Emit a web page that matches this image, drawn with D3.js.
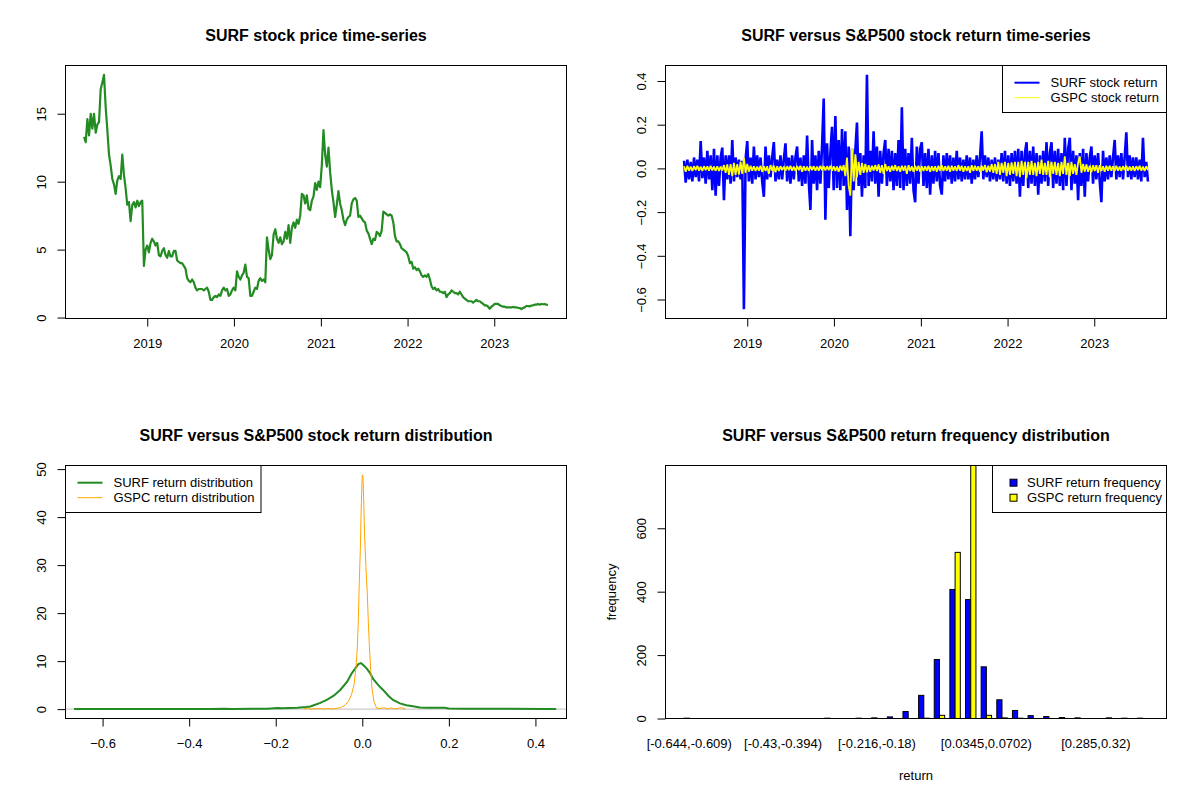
<!DOCTYPE html>
<html><head><meta charset="utf-8">
<script src="https://cdn.jsdelivr.net/npm/d3@7"></script>
<style>
body{margin:0;background:#fff}
svg{display:block}
text{font-family:"Liberation Sans",Arial,Helvetica,sans-serif;fill:#000}
</style>
</head><body>
<svg id="chart" width="1200" height="800"></svg>
<script>
// ---------------- DATA ----------------
const startDate = "2018-04-10";           // first weekly observation
const yearTicks = [2019, 2020, 2021, 2022, 2023];

// SURF weekly closing price
const surfPrice = [
13.3,12.9,14.6,13.4,15.0,13.9,15.0,13.6,14.2,14.4,16.8,17.3,17.86,15.5,13.8,12.0,11.2,10.2,9.8,9.1,
10.1,10.4,10.2,12.0,10.5,9.5,8.3,8.5,7.1,8.3,8.5,8.1,8.6,8.2,8.5,8.6,3.8,5.0,5.3,4.8,
5.5,5.8,5.6,5.3,5.5,4.6,4.5,4.9,5.1,4.6,4.4,4.9,4.5,4.5,4.9,4.9,4.2,4.1,4.0,4.0,
3.8,3.6,2.9,2.7,2.6,2.8,2.6,2.2,2.0,2.1,2.1,2.1,2.0,2.1,2.2,1.9,1.3,1.3,1.5,1.6,
1.5,1.7,1.6,2.0,2.2,2.0,2.1,1.6,1.7,2.0,2.2,2.0,3.4,3.0,2.8,3.1,3.3,3.9,3.0,2.9,
1.6,1.6,1.9,2.2,2.1,2.7,2.9,2.7,2.8,2.6,5.9,5.0,4.3,4.6,6.1,6.5,5.8,5.5,5.9,5.4,
5.6,6.3,5.8,6.8,5.5,6.6,7.0,6.6,7.2,6.9,7.5,9.1,9.0,8.4,9.0,8.0,7.9,8.6,8.9,9.9,
9.4,10.0,9.6,11.2,13.8,12.0,11.1,12.5,10.7,9.4,8.5,7.4,8.3,9.3,8.4,7.9,7.2,6.8,7.2,7.4,
7.5,8.4,8.7,8.8,8.6,7.4,7.5,7.3,7.1,7.0,6.4,6.2,5.8,5.4,5.8,5.7,6.3,6.2,6.0,6.4,
7.8,7.7,7.6,7.5,7.6,7.5,7.0,6.0,5.6,5.6,5.4,5.1,5.0,4.9,4.8,4.5,4.0,4.1,3.6,3.7,
3.5,3.6,3.4,3.1,3.0,3.1,3.0,3.2,2.8,2.3,2.1,2.2,2.0,2.1,1.9,1.9,1.8,1.9,1.5,1.7,
1.8,2.0,1.9,1.8,1.8,1.7,1.9,1.7,1.5,1.4,1.3,1.2,1.2,1.2,1.1,1.2,1.3,1.2,1.2,1.1,
1.0,0.9,0.9,0.8,0.65,0.8,0.9,1.0,1.0,1.0,0.9,0.85,0.8,0.8,0.75,0.75,0.75,0.75,0.78,0.75,
0.75,0.72,0.7,0.62,0.7,0.75,0.85,0.85,0.82,0.88,0.9,0.95,0.95,1.0,0.95,1.0,0.98,1.0,0.95,0.92
];

// SURF weekly return extremes
const surfReturn = [
0.035,-0.065,0.04,-0.05,0.03,-0.06,0.05,-0.04,0.04,-0.06,
0.125,-0.045,0.05,-0.07,0.08,-0.05,0.06,-0.1,0.09,-0.125,
0.06,-0.08,0.05,0.095,-0.145,0.06,-0.05,0.06,-0.07,0.13,
-0.06,0.05,-0.04,0.04,-0.05,0.035,-0.644,0.04,0.125,-0.06,
0.05,-0.07,0.1,-0.05,0.06,-0.04,0.05,-0.06,-0.13,0.1,
-0.05,0.06,-0.04,0.05,0.12,-0.06,0.04,-0.05,0.06,-0.05,
0.04,0.115,-0.06,0.05,-0.07,0.06,-0.05,0.05,0.1,-0.06,
0.05,-0.08,0.06,-0.07,0.15,-0.06,-0.19,0.13,-0.07,0.06,
-0.1,0.08,-0.07,0.1,0.32,-0.235,0.115,-0.09,0.07,0.19,
-0.1,0.24,-0.09,0.13,-0.1,0.18,-0.08,0.17,-0.19,0.1,
-0.31,0.09,-0.1,0.08,0.21,-0.08,0.07,-0.13,0.06,-0.09,
0.428,-0.08,0.08,-0.06,0.17,-0.07,0.1,-0.13,0.08,-0.07,
0.07,0.13,-0.08,0.09,-0.06,0.08,-0.1,0.07,-0.08,0.13,
-0.09,0.28,-0.1,0.09,-0.08,0.07,-0.07,0.14,-0.1,-0.155,
0.1,-0.07,0.09,0.12,-0.08,0.07,-0.09,0.09,-0.12,0.06,
-0.07,0.08,-0.06,0.07,-0.08,-0.12,0.06,-0.06,0.07,-0.05,
0.06,-0.07,0.05,-0.06,0.08,-0.05,0.05,-0.06,0.04,-0.05,
0.06,-0.05,0.05,-0.07,0.04,-0.05,0.06,-0.04,0.05,0.17,
-0.05,0.06,-0.04,0.05,-0.06,0.04,-0.05,0.05,-0.06,0.04,
-0.05,0.07,-0.06,0.08,-0.07,0.06,-0.08,0.07,-0.06,0.08,
-0.07,0.09,-0.13,0.08,-0.08,0.07,0.12,-0.09,0.08,-0.07,
0.1,-0.08,0.07,-0.12,0.06,-0.07,0.08,-0.06,0.12,-0.08,
0.07,0.12,-0.09,0.08,-0.07,0.09,-0.08,0.07,-0.1,0.14,
-0.08,0.09,0.14,-0.1,0.08,-0.07,0.06,-0.145,0.07,-0.08,
0.09,-0.13,0.07,-0.06,0.05,0.1,-0.07,0.06,-0.05,0.07,
-0.06,-0.155,0.08,-0.06,0.05,-0.05,0.06,-0.04,0.05,0.13,
-0.05,0.06,-0.04,0.07,-0.05,0.05,0.165,-0.04,0.06,-0.05,
0.05,-0.04,0.05,-0.05,0.04,-0.06,0.14,-0.04,0.03,-0.06
];

// GSPC (S&P500) weekly return extremes
const gspcReturn = [
0.01,-0.015,0.012,-0.01,0.008,-0.012,0.01,-0.008,0.012,-0.01,
0.008,-0.012,0.01,-0.008,0.009,-0.01,0.012,-0.009,0.008,-0.011,
0.01,-0.012,0.008,-0.01,0.015,-0.02,0.018,-0.03,0.02,-0.035,
0.025,-0.03,0.02,-0.028,0.03,-0.025,0.05,-0.02,0.02,-0.015,
0.012,-0.01,0.01,-0.012,0.008,-0.01,0.012,-0.015,0.01,-0.012,
0.01,-0.025,0.015,-0.01,0.012,-0.018,0.01,-0.012,0.01,-0.008,
0.008,-0.01,0.01,-0.008,0.012,-0.01,0.008,-0.012,0.01,-0.008,
0.012,-0.015,0.01,-0.01,0.008,-0.012,0.01,-0.008,0.01,-0.01,
0.008,-0.01,0.012,-0.008,0.01,-0.009,0.01,-0.008,0.012,-0.01,
0.01,-0.012,0.008,-0.015,0.012,-0.01,0.015,-0.035,0.05,-0.08,
-0.125,0.09,-0.06,0.065,-0.04,0.03,-0.03,0.025,-0.02,0.02,
-0.018,0.015,-0.015,0.012,-0.01,0.015,-0.012,0.018,-0.02,0.015,
-0.025,0.02,-0.012,0.01,-0.015,0.012,-0.01,0.015,-0.012,0.01,
-0.015,0.012,-0.01,0.012,-0.025,0.015,-0.012,0.01,-0.015,0.012,
-0.01,0.012,-0.015,0.01,-0.012,0.01,-0.01,0.012,-0.015,0.01,
-0.012,0.01,-0.015,0.012,-0.01,0.015,-0.012,0.01,-0.01,0.012,
-0.015,0.012,-0.01,0.01,-0.012,0.015,-0.01,0.012,-0.015,0.01,
-0.012,0.01,-0.02,0.015,-0.012,0.012,-0.01,0.01,-0.015,0.012,
-0.01,0.015,-0.018,0.012,-0.015,0.02,-0.02,0.02,-0.025,0.03,
-0.03,0.025,-0.02,0.03,-0.035,0.025,-0.03,0.028,-0.025,0.03,
-0.035,0.03,-0.04,0.035,-0.03,0.03,-0.045,0.03,-0.03,0.035,
-0.03,0.025,-0.035,0.03,-0.025,0.04,-0.03,0.025,-0.03,0.035,
-0.04,0.03,-0.025,0.03,-0.03,0.025,-0.035,0.03,-0.025,0.055,
-0.03,0.025,-0.035,0.03,-0.025,0.02,-0.03,0.025,0.055,-0.02,
0.02,-0.015,0.018,-0.015,0.012,-0.018,0.015,-0.012,0.015,-0.02,
0.015,-0.012,0.01,-0.015,0.012,-0.01,0.012,-0.01,0.01,-0.012,
0.012,-0.01,0.008,-0.012,0.01,-0.008,0.012,-0.01,0.008,-0.01,
0.01,-0.012,0.01,-0.008,0.012,-0.01,0.008,-0.012,0.01,-0.008
];

// Kernel density estimates (x = return, y = density)
const surfDensX = [-0.666,-0.5,-0.35,-0.32,-0.3,-0.25,-0.22,-0.195,-0.185,-0.17,-0.15,-0.13,-0.12,-0.112,-0.097,-0.081,-0.066,-0.051,-0.035,-0.024,-0.016,-0.009,-0.003,0.002,0.01,0.018,0.025,0.037,0.048,0.06,0.071,0.087,0.102,0.117,0.133,0.15,0.19,0.2,0.24,0.28,0.32,0.43,0.448];
const surfDensY = [0.05,0.05,0.05,0.08,0.05,0.06,0.1,0.25,0.2,0.25,0.3,0.45,0.55,0.8,1.3,2.0,2.8,4.0,5.7,7.5,8.5,9.4,9.6,9.2,8.5,7.5,6.3,5.0,4.0,2.8,1.9,1.2,0.8,0.6,0.35,0.3,0.3,0.15,0.08,0.07,0.07,0.05,0.05];
const gspcDensX = [-0.135,-0.127,-0.12,-0.1,-0.09,-0.08,-0.07,-0.05,-0.045,-0.04,-0.032,-0.025,-0.019,-0.0146,-0.0115,-0.0092,-0.0069,-0.0046,-0.0023,0.0,0.0015,0.0031,0.0054,0.0085,0.0116,0.0139,0.0162,0.0192,0.0223,0.0269,0.0331,0.04,0.05,0.058,0.065,0.075,0.09,0.1];
const gspcDensY = [0.02,0.2,0.02,0.15,0.02,0.15,0.03,0.3,0.6,0.8,1.6,3.0,5.1,8.6,12.8,18.3,26.7,33.0,42.8,48.8,48.5,44.2,35.8,29.5,23.9,18.3,13.5,8.6,4.4,1.6,0.2,0.1,0.3,0.05,0.25,0.05,0.3,0.02];
const returnRange = [-0.6428, 0.4289];
const densXTicks = [-0.6,-0.4,-0.2,0.0,0.2,0.4];
const densYTicks = [0,10,20,30,40,50];

// Return frequency table (30 bins)
const bins = ["[-0.644,-0.609)","[-0.609,-0.573)","[-0.573,-0.537)","[-0.537,-0.501)","[-0.501,-0.466)","[-0.466,-0.43)",
"[-0.43,-0.394)","[-0.394,-0.359)","[-0.359,-0.323)","[-0.323,-0.287)","[-0.287,-0.251)","[-0.251,-0.216)",
"[-0.216,-0.18)","[-0.18,-0.144)","[-0.144,-0.108)","[-0.108,-0.0726)","[-0.0726,-0.0368)","[-0.0368,-0.00109)",
"[-0.00109,0.0345)","[0.0345,0.0702)","[0.0702,0.106)","[0.106,0.142)","[0.142,0.177)","[0.177,0.213)",
"[0.213,0.249)","[0.249,0.285)","[0.285,0.32)","[0.32,0.356)","[0.356,0.392)","[0.392,0.428]"];
const surfFreq = [1,0,0,0,0,0,0,0,0,1,0,1,2,5,22,73,186,407,375,163,59,25,9,6,3,2,0,2,1,1];
const gspcFreq = [0,0,0,0,0,0,0,0,0,0,0,0,0,0,0,1,10,524,798,10,2,1,0,0,0,0,0,0,0,0];
const histTickLabels = ["[-0.644,-0.609)","[-0.43,-0.394)","[-0.216,-0.18)","[0.0345,0.0702)","[0.285,0.32)"];
const histYTicks = [0,200,400,600];

// ---------------- DRAWING ----------------
const svg = d3.select("#chart");
const FS = 13;
const FF = '"Liberation Sans",Arial,sans-serif';
const start = d3.timeParse("%Y-%m-%d")(startDate);
const dates = surfPrice.map((_, i) => d3.timeDay.offset(start, 7 * i));
const yearDates = yearTicks.map(y => new Date(y, 0, 1));
const rExt = ([a, b]) => { a = +a; b = +b; const r = b - a; return [a - 0.04 * r, b + 0.04 * r]; };

function panel(fx, fy, title) {
  const p = {x0: fx + 65.5, x1: fx + 566.5, y0: fy + 65.5, y1: fy + 318.5};
  p.g = svg.append("g");
  const id = "clip" + fx + "_" + fy;
  svg.append("clipPath").attr("id", id).append("rect")
    .attr("x", p.x0).attr("y", p.y0).attr("width", p.x1 - p.x0).attr("height", p.y1 - p.y0);
  p.plot = p.g.append("g").attr("clip-path", `url(#${id})`);
  p.g.append("text").attr("x", (p.x0 + p.x1) / 2).attr("y", fy + 35)
    .attr("text-anchor", "middle").attr("dominant-baseline", "central")
    .attr("font-size", 16).attr("font-weight", "bold").text(title);
  return p;
}
function box(p) {
  p.g.append("rect").attr("x", p.x0).attr("y", p.y0).attr("width", p.x1 - p.x0)
    .attr("height", p.y1 - p.y0).attr("fill", "none").attr("stroke", "#000").attr("stroke-width", 1);
}
function xAxis(p, scale, ticks, fmt) {
  const ax = d3.axisBottom(scale).tickValues(ticks).tickFormat(fmt).tickSize(8).tickPadding(12.5);
  const g = p.g.append("g").attr("transform", `translate(0,${p.y1})`).call(ax);
  g.select(".domain").remove();
  g.selectAll("line").attr("stroke", "#000");
  g.selectAll("text").attr("font-size", FS).attr("font-family", FF).attr("fill", "#000");
}
function yAxis(p, scale, ticks, fmt) {
  const ax = d3.axisLeft(scale).tickValues(ticks).tickFormat(fmt).tickSize(8);
  const g = p.g.append("g").attr("transform", `translate(${p.x0},0)`).call(ax);
  g.select(".domain").remove();
  g.selectAll("line").attr("stroke", "#000");
  g.selectAll("text").attr("x", null).attr("dy", null)
    .attr("transform", "translate(-24,0) rotate(-90)")
    .attr("text-anchor", "middle").attr("dominant-baseline", "central")
    .attr("font-size", FS).attr("font-family", FF).attr("fill", "#000");
}
function legend(p, left, right, items, kind) {
  const top = p.y0, h = 47;
  p.g.append("rect").attr("x", left).attr("y", top).attr("width", right - left).attr("height", h)
    .attr("fill", "#fff").attr("stroke", "#000");
  items.forEach((it, i) => {
    const cy = top + 17.2 + 15 * i;
    if (kind === "line") {
      p.g.append("line").attr("x1", left + 12).attr("x2", left + 37).attr("y1", cy).attr("y2", cy)
        .attr("stroke", it.color).attr("stroke-width", it.w);
      p.g.append("text").attr("x", left + 48).attr("y", cy).attr("dominant-baseline", "central")
        .attr("font-size", FS).text(it.label);
    } else {
      p.g.append("rect").attr("x", left + 17.5).attr("y", cy - 3.5).attr("width", 7).attr("height", 7)
        .attr("fill", it.color).attr("stroke", "#000");
      p.g.append("text").attr("x", left + 34.5).attr("y", cy).attr("dominant-baseline", "central")
        .attr("font-size", FS).text(it.label);
    }
  });
}

// ---- Panel 1: price ----
{
  const p = panel(0, 0, "SURF stock price time-series");
  const x = d3.scaleTime().domain(rExt(d3.extent(dates))).range([p.x0, p.x1]);
  const y = d3.scaleLinear().domain(rExt(d3.extent(surfPrice))).range([p.y1, p.y0]);
  p.plot.append("path").datum(surfPrice)
    .attr("d", d3.line().x((d, i) => x(dates[i])).y(d => y(d)))
    .attr("fill", "none").attr("stroke", "#228B22").attr("stroke-width", 2.2).attr("stroke-linejoin", "round");
  box(p);
  xAxis(p, x, yearDates, d3.timeFormat("%Y"));
  yAxis(p, y, [0, 5, 10, 15], d3.format("d"));
}

// ---- Panel 2: returns ----
{
  const p = panel(600, 0, "SURF versus S&P500 stock return time-series");
  const x = d3.scaleTime().domain(rExt(d3.extent(dates))).range([p.x0, p.x1]);
  const y = d3.scaleLinear().domain(rExt(d3.extent(surfReturn.concat(gspcReturn)))).range([p.y1, p.y0]);
  const ln = d3.line().x((d, i) => x(dates[i])).y(d => y(d));
  p.plot.append("path").datum(surfReturn).attr("d", ln)
    .attr("fill", "none").attr("stroke", "#0000FF").attr("stroke-width", 2.6).attr("stroke-linejoin", "bevel");
  p.plot.append("path").datum(gspcReturn).attr("d", ln)
    .attr("fill", "none").attr("stroke", "#FFFF00").attr("stroke-width", 1.8).attr("stroke-linejoin", "bevel");
  box(p);
  xAxis(p, x, yearDates, d3.timeFormat("%Y"));
  yAxis(p, y, [-0.6, -0.4, -0.2, 0, 0.2, 0.4], d3.format(".1f"));
  legend(p, 1002.5, p.x1, [
    {label: "SURF stock return", color: "#0000FF", w: 2},
    {label: "GSPC stock return", color: "#FFFF00", w: 1}], "line");
}

// ---- Panel 3: density ----
{
  const p = panel(0, 400, "SURF versus S&P500 stock return distribution");
  const x = d3.scaleLinear().domain(rExt(returnRange)).range([p.x0, p.x1]);
  const y = d3.scaleLinear().domain(rExt([0, d3.max(gspcDensY.concat(surfDensY))])).range([p.y1, p.y0]);
  p.plot.append("line").attr("x1", p.x0).attr("x2", p.x1).attr("y1", y(0)).attr("y2", y(0))
    .attr("stroke", "#BEBEBE").attr("stroke-width", 1);
  p.plot.append("path").datum(surfDensY)
    .attr("d", d3.line().x((d, i) => x(surfDensX[i])).y(d => y(d)))
    .attr("fill", "none").attr("stroke", "#228B22").attr("stroke-width", 2);
  p.plot.append("path").datum(gspcDensY)
    .attr("d", d3.line().x((d, i) => x(gspcDensX[i])).y(d => y(d)))
    .attr("fill", "none").attr("stroke", "#FFA500").attr("stroke-width", 1);
  box(p);
  xAxis(p, x, densXTicks, d3.format(".1f"));
  yAxis(p, y, densYTicks, d3.format("d"));
  legend(p, p.x0, 261, [
    {label: "SURF return distribution", color: "#228B22", w: 2},
    {label: "GSPC return distribution", color: "#FFA500", w: 1}], "line");
}

// ---- Panel 4: frequency barplot ----
{
  const p = panel(600, 400, "SURF versus S&P500 return frequency distribution");
  const u = d3.scaleLinear().domain(rExt([1, 3 * bins.length])).range([p.x0, p.x1]);
  const xb = d3.scaleBand().domain(bins).range([u(0.5), u(3 * bins.length + 0.5)])
    .paddingInner(1 / 3).paddingOuter(1 / 6);
  const xs = d3.scaleBand().domain(["SURF", "GSPC"]).range([0, xb.bandwidth()]);
  const y = d3.scaleLinear().domain([0, d3.max(surfFreq.concat(gspcFreq))]).range([p.y1, p.y0]);
  const rows = bins.map((b, i) => ({b, v: [{k: "SURF", n: surfFreq[i]}, {k: "GSPC", n: gspcFreq[i]}]}));
  const col = {SURF: "#0000FF", GSPC: "#FFFF00"};
  p.g.selectAll("g.grp").data(rows).join("g").attr("class", "grp")
    .attr("transform", d => `translate(${xb(d.b)},0)`)
    .selectAll("rect").data(d => d.v).join("rect")
    .attr("x", d => xs(d.k)).attr("width", xs.bandwidth())
    .attr("y", d => y(d.n)).attr("height", d => y(0) - y(d.n))
    .attr("fill", d => col[d.k]).attr("stroke", "#000").attr("stroke-width", 1);
  box(p);
  const lab = p.g.append("g");
  lab.selectAll("text").data(histTickLabels).join("text")
    .attr("x", d => xb(d) + xb.bandwidth() / 2).attr("y", p.y1 + 25)
    .attr("text-anchor", "middle").attr("dominant-baseline", "central").attr("font-size", FS).text(d => d);
  yAxis(p, y, histYTicks, d3.format("d"));
  p.g.append("text").attr("x", (p.x0 + p.x1) / 2).attr("y", p.y1 + 57)
    .attr("text-anchor", "middle").attr("dominant-baseline", "central").attr("font-size", FS).text("return");
  p.g.append("text").attr("transform", `translate(${p.x0 - 54.5},${(p.y0 + p.y1) / 2}) rotate(-90)`)
    .attr("text-anchor", "middle").attr("dominant-baseline", "central").attr("font-size", FS).text("frequency");
  legend(p, 992.5, p.x1, [
    {label: "SURF return frequency", color: "#0000FF"},
    {label: "GSPC return frequency", color: "#FFFF00"}], "rect");
}
</script>
</body></html>
